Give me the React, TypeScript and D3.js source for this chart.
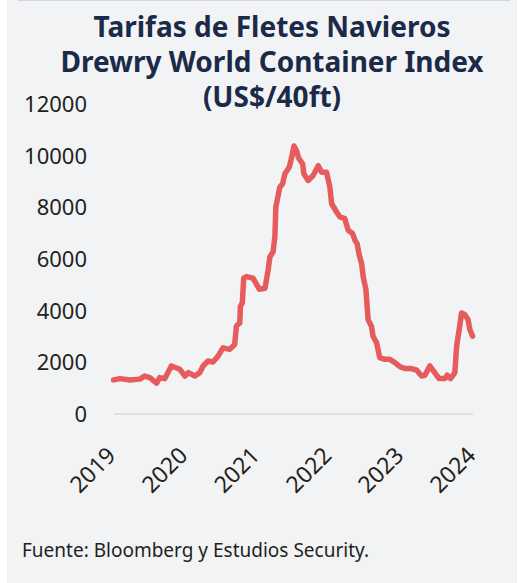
import React, { useEffect, useRef } from "react"
import * as d3 from "d3"

// Drewry WCI (US$/40ft)
const dates = [
	"2019-01-04", "2019-02-05", "2019-03-28", "2019-05-17", "2019-06-11", "2019-07-07",
	"2019-08-10", "2019-08-26", "2019-09-21", "2019-10-24", "2019-12-06", "2020-01-01",
	"2020-01-18", "2020-02-20", "2020-03-16", "2020-04-02", "2020-04-27", "2020-05-22",
	"2020-06-17", "2020-07-12", "2020-08-15", "2020-09-09", "2020-09-18", "2020-10-05",
	"2020-10-08", "2020-10-18", "2020-10-25", "2020-11-08", "2020-12-11", "2021-01-12",
	"2021-02-10", "2021-02-26", "2021-03-07", "2021-03-23", "2021-04-01", "2021-04-06",
	"2021-04-26", "2021-05-10", "2021-05-22", "2021-06-13", "2021-06-25", "2021-07-07",
	"2021-07-20", "2021-07-29", "2021-08-20", "2021-08-26", "2021-09-17", "2021-10-12",
	"2021-11-07", "2021-11-24", "2021-12-19", "2022-01-05", "2022-01-14", "2022-02-08",
	"2022-02-25", "2022-03-22", "2022-04-08", "2022-04-30", "2022-05-12", "2022-05-23",
	"2022-06-03", "2022-06-15", "2022-06-23", "2022-07-07", "2022-07-18", "2022-08-04",
	"2022-08-12", "2022-08-30", "2022-09-15", "2022-10-11", "2022-11-05", "2022-12-01",
	"2022-12-26", "2023-01-20", "2023-02-23", "2023-03-21", "2023-04-15", "2023-05-02",
	"2023-05-27", "2023-06-21", "2023-07-13", "2023-08-11", "2023-08-23", "2023-09-09",
	"2023-10-01", "2023-10-10", "2023-10-23", "2023-11-04", "2023-11-20", "2023-12-07",
	"2023-12-16", "2023-12-30",
]
const values = [
	1320, 1370, 1320, 1350, 1470, 1410,
	1190, 1410, 1370, 1860, 1730, 1470,
	1600, 1470, 1600, 1860, 2050, 2010,
	2240, 2560, 2500, 2690, 3400, 3530,
	4160, 4300, 5260, 5320, 5260, 4830,
	4870, 5580, 6090, 6280, 6860, 8010,
	8780, 8910, 9300, 9550, 9930, 10377,
	10190, 9930, 9680, 9300, 9040, 9230,
	9610, 9360, 9360, 8780, 8140, 7820,
	7630, 7560, 7110, 6990, 6730, 6600,
	6150, 5830, 5320, 4810, 3650, 3400,
	3010, 2760, 2180, 2115, 2115, 1990,
	1835, 1760, 1760, 1700, 1470, 1500,
	1860, 1600, 1370, 1370, 1500, 1370,
	1600, 2630, 3270, 3910, 3850, 3650,
	3270, 3010,
]
const yTicks = [0, 2000, 4000, 6000, 8000, 10000, 12000]
const yearLabels = ["2019", "2020", "2021", "2022", "2023", "2024"]
const titleLines = [
	"Tarifas de Fletes Navieros",
	"Drewry  World Container Index",
	"(US$/40ft)",
]
const source = "Fuente: Bloomberg y Estudios Security."

const W = 523
const H = 583

const App = () => {
	const ref = useRef<SVGSVGElement>(null)

	useEffect(() => {
		const parse = d3.timeParse("%Y-%m-%d")
		const data = dates.map((d, i) => ({ date: parse(d) as Date, value: values[i] }))

		const x = d3
			.scaleTime()
			.domain([new Date(2019, 0, 1), new Date(2024, 0, 1)])
			.range([113, 473])
		const y = d3.scaleLinear().domain([0, 12000]).range([414, 104])

		const svg = d3.select(ref.current)
		svg.selectAll("*").remove()

		// panel de fondo
		svg.append("rect").attr("width", W).attr("height", H).attr("fill", "#fff")
		svg
			.append("rect")
			.attr("x", 7)
			.attr("y", 0)
			.attr("width", 510)
			.attr("height", H)
			.attr("fill", "#f2f3f5")
		svg
			.append("line")
			.attr("x1", 18)
			.attr("x2", 510)
			.attr("y1", 0.5)
			.attr("y2", 0.5)
			.attr("stroke", "#d3d6da")

		// titulo
		svg
			.append("g")
			.selectAll("text")
			.data(titleLines)
			.join("text")
			.attr("x", 272)
			.attr("y", (_, i) => 37 + i * 35)
			.attr("text-anchor", "middle")
			.style("font-family", "'Noto Sans', sans-serif")
			.style("font-weight", 700)
			.style("font-size", "28px")
			.style("fill", "#1b2a48")
			.text(d => d)

		// eje y (solo etiquetas)
		svg
			.append("g")
			.selectAll("text")
			.data(yTicks)
			.join("text")
			.attr("x", 87)
			.attr("y", d => y(d))
			.attr("dy", "0.36em")
			.attr("text-anchor", "end")
			.style("font-family", "'Noto Sans', sans-serif")
			.style("font-size", "22px")
			.style("fill", "#231f20")
			.text(d => d)

		// linea base
		svg
			.append("line")
			.attr("x1", 114)
			.attr("x2", 473)
			.attr("y1", y(0))
			.attr("y2", y(0))
			.attr("stroke", "#ddd8d2")
			.attr("stroke-width", 1.5)

		// etiquetas de años
		svg
			.append("g")
			.selectAll("text")
			.data(yearLabels)
			.join("text")
			.attr("transform", d => `translate(${x(new Date(+d, 0, 1)) + 4}, 457) rotate(-45)`)
			.attr("text-anchor", "end")
			.style("font-family", "'Noto Sans', sans-serif")
			.style("font-size", "23px")
			.style("fill", "#231f20")
			.text(d => d)

		// serie
		svg
			.append("path")
			.datum(data)
			.attr("fill", "none")
			.attr("stroke", "#e65c5c")
			.attr("stroke-width", 5.5)
			.attr("stroke-linejoin", "round")
			.attr("stroke-linecap", "round")
			.attr(
				"d",
				d3
					.line<{ date: Date; value: number }>()
					.x(d => x(d.date))
					.y(d => y(d.value)),
			)

		// fuente
		svg
			.append("text")
			.attr("x", 22)
			.attr("y", 557)
			.style("font-family", "'Noto Sans', sans-serif")
			.style("font-size", "19px")
			.style("fill", "#231f20")
			.text(source)
	}, [])

	return (
		<svg
			ref={ref}
			width={W}
			height={H}
			style={{ position: "fixed", top: 0, left: 0, display: "block" }}
		></svg>
	)
}

export default App
